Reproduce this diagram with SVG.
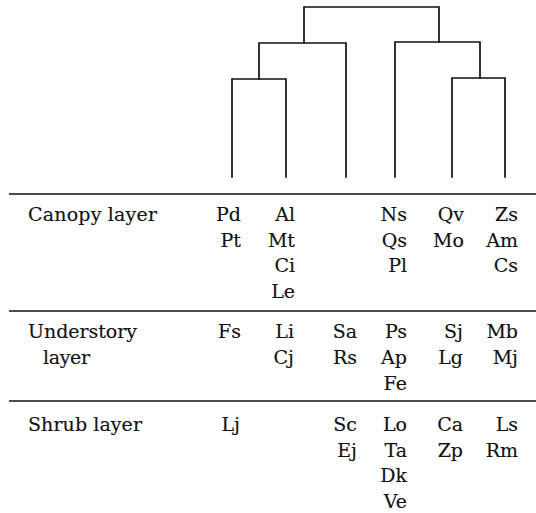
<svg xmlns="http://www.w3.org/2000/svg" width="536" height="513" viewBox="0 0 536 513">
<style>
.l{fill:none;stroke:#111;stroke-width:1.7;stroke-linecap:square}
.r{stroke:#111;stroke-width:1.5}
text{font-family:"DejaVu Serif","Liberation Serif",serif;font-size:19px;fill:#111;stroke:#111;stroke-width:0.15}
.e{text-anchor:end}
</style>
<g id="connectors">
<path class="l" d="M304,43 V7 H439 V42"/>
<path class="l" d="M259,79 V43 H346 V177"/>
<path class="l" d="M232,177 V79 H286 V177"/>
<path class="l" d="M395,177 V42 H480 V78"/>
<path class="l" d="M452,177 V78 H505 V177"/>
</g>
<g id="rules">
<line class="r" x1="9" y1="194" x2="536" y2="194"/>
<line class="r" x1="9" y1="311" x2="536" y2="311"/>
<line class="r" x1="9" y1="401" x2="536" y2="401"/>
</g>
<g id="canopy">
<text x="28" y="221" textLength="129">Canopy layer</text>
<text class="e" x="241" y="221">Pd</text>
<text class="e" x="241" y="247">Pt</text>
<text class="e" x="295" y="221">Al</text>
<text class="e" x="295" y="247">Mt</text>
<text class="e" x="295" y="272">Ci</text>
<text class="e" x="295" y="298">Le</text>
<text class="e" x="407" y="221">Ns</text>
<text class="e" x="407" y="247">Qs</text>
<text class="e" x="407" y="272">Pl</text>
<text class="e" x="464" y="221">Qv</text>
<text class="e" x="464" y="247">Mo</text>
<text class="e" x="518" y="221">Zs</text>
<text class="e" x="518" y="247">Am</text>
<text class="e" x="518" y="272">Cs</text>
</g>
<g id="understory">
<text x="28" y="338" textLength="109">Understory</text>
<text x="43" y="364" textLength="47">layer</text>
<text class="e" x="241" y="338">Fs</text>
<text class="e" x="294" y="338">Li</text>
<text class="e" x="294" y="364">Cj</text>
<text class="e" x="357" y="338">Sa</text>
<text class="e" x="357" y="364">Rs</text>
<text class="e" x="407" y="338">Ps</text>
<text class="e" x="407" y="364">Ap</text>
<text class="e" x="407" y="390">Fe</text>
<text class="e" x="463" y="338">Sj</text>
<text class="e" x="463" y="364">Lg</text>
<text class="e" x="518" y="338">Mb</text>
<text class="e" x="518" y="364">Mj</text>
</g>
<g id="shrub">
<text x="28" y="431" textLength="114">Shrub layer</text>
<text class="e" x="240" y="431">Lj</text>
<text class="e" x="357" y="431">Sc</text>
<text class="e" x="357" y="457">Ej</text>
<text class="e" x="407" y="431">Lo</text>
<text class="e" x="407" y="457">Ta</text>
<text class="e" x="407" y="482">Dk</text>
<text class="e" x="407" y="508">Ve</text>
<text class="e" x="463" y="431">Ca</text>
<text class="e" x="463" y="457">Zp</text>
<text class="e" x="518" y="431">Ls</text>
<text class="e" x="518" y="457">Rm</text>
</g>
</svg>
